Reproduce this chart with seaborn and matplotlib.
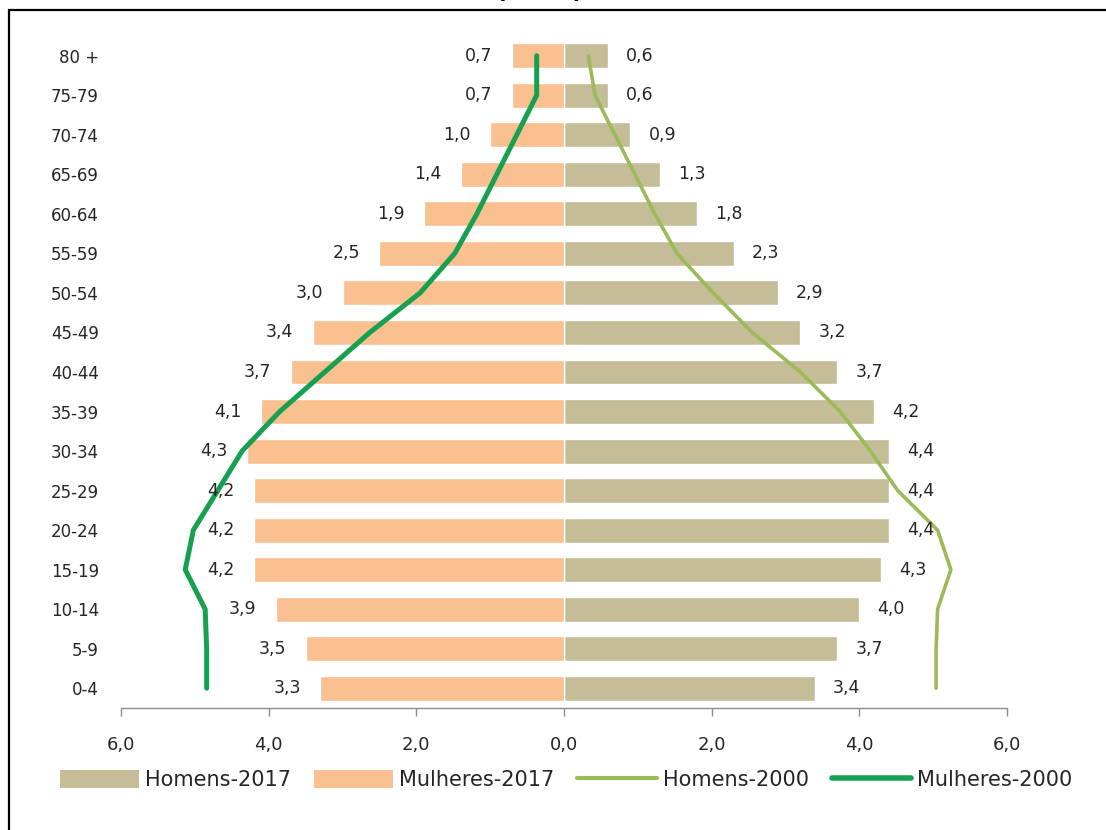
import matplotlib
matplotlib.use("Agg")
import matplotlib.pyplot as plt
from matplotlib.patches import Rectangle, Patch
from matplotlib.lines import Line2D
import seaborn as sns
import pandas as pd
import numpy as np

# Age groups, oldest at the top
age_groups = ["80 +", "75-79", "70-74", "65-69", "60-64", "55-59", "50-54", "45-49",
              "40-44", "35-39", "30-34", "25-29", "20-24", "15-19", "10-14", "5-9", "0-4"]

# Share of population (%), 2017
homens_2017 = [0.6, 0.6, 0.9, 1.3, 1.8, 2.3, 2.9, 3.2, 3.7, 4.2, 4.4, 4.4, 4.4, 4.3, 4.0, 3.7, 3.4]
mulheres_2017 = [0.7, 0.7, 1.0, 1.4, 1.9, 2.5, 3.0, 3.4, 3.7, 4.1, 4.3, 4.2, 4.2, 4.2, 3.9, 3.5, 3.3]

# Share of population (%), 2000
homens_2000 = [0.33, 0.42, 0.69, 0.96, 1.23, 1.53, 2.02, 2.55, 3.2, 3.74, 4.15, 4.52, 5.06, 5.24, 5.06, 5.04, 5.04]
mulheres_2000 = [0.37, 0.37, 0.64, 0.91, 1.18, 1.48, 1.95, 2.63, 3.24, 3.85, 4.36, 4.69, 5.02, 5.13, 4.86, 4.84, 4.84]

x_ticks = [-6, -4, -2, 0, 2, 4, 6]

c_homens = "#C4BD97"
c_mulheres = "#FAC090"
c_h2000 = "#9BBB59"
c_m2000 = "#17A04F"

sns.set_theme(style="white")
plt.rcParams["font.family"] = ["DejaVu Sans"]

fig = plt.figure(figsize=(11.06, 8.30), dpi=100)
ax = fig.add_axes([121 / 1106, 122 / 830, 886 / 1106, 672 / 830])

df = pd.DataFrame({
    "grupo": age_groups * 2,
    "valor": list(homens_2017) + [-v for v in mulheres_2017],
    "sexo": ["Homens-2017"] * len(age_groups) + ["Mulheres-2017"] * len(age_groups),
})
sns.barplot(data=df, x="valor", y="grupo", hue="sexo", order=age_groups,
            palette={"Homens-2017": c_homens, "Mulheres-2017": c_mulheres},
            orient="h", dodge=False, width=0.63, saturation=1, legend=False, ax=ax)

pos = np.arange(len(age_groups))
sns.lineplot(x=homens_2000, y=pos, orient="y", sort=False, color=c_h2000,
             linewidth=2.6, ax=ax, legend=False)
sns.lineplot(x=[-v for v in mulheres_2000], y=pos, orient="y", sort=False, color=c_m2000,
             linewidth=3.6, ax=ax, legend=False)

# value labels beside each bar
fmt = lambda v: f"{v:.1f}".replace(".", ",")
for i, (h, m) in enumerate(zip(homens_2017, mulheres_2017)):
    ax.annotate(fmt(h), (h, i), xytext=(13, 0), textcoords="offset points",
                ha="left", va="center", fontsize=12.5, color="#262626")
    ax.annotate(fmt(m), (-m, i), xytext=(-14, 0), textcoords="offset points",
                ha="right", va="center", fontsize=12.5, color="#262626")

ax.set_xlim(-6, 6)
ax.set_ylim(len(age_groups) - 0.5, -0.5)
ax.set_xticks(x_ticks)
ax.set_xticklabels([fmt(abs(t)) for t in x_ticks], fontsize=13, color="#262626")
ax.set_yticks(pos)
ax.set_yticklabels(age_groups, fontsize=12, color="#262626")
ax.set_xlabel("")
ax.set_ylabel("")
for s in ["left", "top", "right"]:
    ax.spines[s].set_visible(False)
ax.spines["bottom"].set_color("#8C8C8C")
ax.spines["bottom"].set_linewidth(1.0)
ax.tick_params(axis="x", bottom=True, length=6, width=1, color="#8C8C8C", pad=14,
               direction="out")
ax.tick_params(axis="y", left=False, length=0, pad=16)
ax.grid(False)

handles = [
    Patch(facecolor=c_homens, edgecolor="none", label="Homens-2017"),
    Patch(facecolor=c_mulheres, edgecolor="none", label="Mulheres-2017"),
    Line2D([], [], color=c_h2000, linewidth=3, label="Homens-2000"),
    Line2D([], [], color=c_m2000, linewidth=4, label="Mulheres-2000"),
]
fig.legend(handles=handles, loc="center", bbox_to_anchor=(566 / 1106, 50 / 830), ncol=4,
           frameon=False, fontsize=15, handlelength=3.8, handleheight=1.0,
           handletextpad=0.3, columnspacing=1.1, labelcolor="#262626")

# outer frame of the chart area
fig.patches.append(Rectangle((9 / 1106, -0.2), 1.2, 0.2 + 820 / 830, transform=fig.transFigure,
                             fill=False, edgecolor="black", linewidth=1.6, zorder=0))
# title line above the frame
fig.text(540 / 1106, 1.0 + 2 / 830, "(2017)", ha="center", va="baseline", fontsize=17,
         fontweight="bold", color="black")

fig.savefig("out.png", dpi=100, facecolor="white")
